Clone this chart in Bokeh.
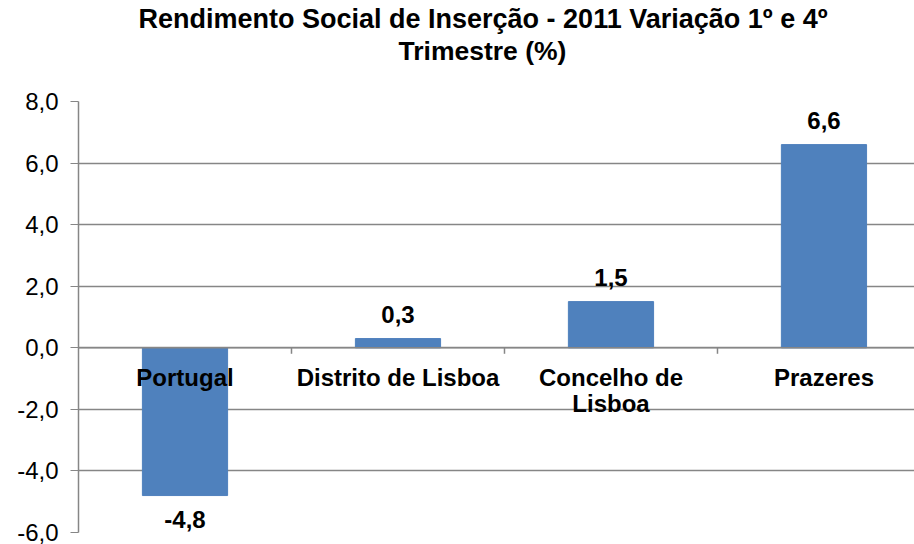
from bokeh.plotting import figure
from bokeh.models import Range1d, FixedTicker, Span, ColumnDataSource, Title
from bokeh.core.properties import value
from bokeh.embed import file_html
from bokeh.resources import INLINE

title_line1 = "Rendimento Social de Inserção - 2011 Variação 1º e 4º"
title_line2 = "Trimestre (%)"
categories = ["Portugal", "Distrito de Lisboa", "Concelho de\nLisboa", "Prazeres"]
values = [-4.8, 0.3, 1.5, 6.6]
value_labels = ["-4,8", "0,3", "1,5", "6,6"]
y_ticks = [-6, -4, -2, 0, 2, 4, 6, 8]
y_tick_labels = ["-6,0", "-4,0", "-2,0", "0,0", "2,0", "4,0", "6,0", "8,0"]

BAR = "#4F81BD"
GRAY = "#868686"
FONT = "Liberation Sans"

n = len(categories)
centers = [i + 0.5 for i in range(n)]
offsets = [-24 if v >= 0 else 24 for v in values]

src = ColumnDataSource(dict(x=centers, top=values, lab=value_labels, off=offsets, cat=categories))

W, H = 914, 544
BL, BT, BB = 78, 101, 12
p = figure(width=W, height=H, output_backend="svg", toolbar_location=None,
           x_range=Range1d(0, 3.925), y_range=Range1d(y_ticks[0], y_ticks[-1]),
           x_axis_type=None, min_border_left=BL, min_border_right=0,
           min_border_top=BT, min_border_bottom=BB)
p.outline_line_color = None
p.background_fill_color = "white"

p.title.text = title_line1
p.title.text_font = FONT
p.title.text_font_size = "27px"
p.title.text_font_style = "bold"
p.title.text_color = "black"
p.title.align = "left"
p.title.offset = 60
p.title.standoff = 0

spacer = Title(text=" ", text_font_size="2px", standoff=32)
p.add_layout(spacer, "above")
t2 = Title(text=title_line2, text_font=FONT, text_font_size="26.5px", text_font_style="bold",
           text_color="black", align="left", offset=320, standoff=0)
p.add_layout(t2, "above")

p.yaxis.ticker = FixedTicker(ticks=y_ticks)
p.yaxis.major_label_overrides = {t: l for t, l in zip(y_ticks, y_tick_labels)}
p.yaxis.major_label_text_font = FONT
p.yaxis.major_label_text_font_size = "24px"
p.yaxis.major_label_text_color = "black"
p.yaxis.major_tick_out = 8
p.yaxis.major_tick_in = 0
p.yaxis.minor_tick_out = 0
p.yaxis.minor_tick_in = 0
p.yaxis.axis_line_color = GRAY
p.yaxis.major_tick_line_color = GRAY
p.yaxis.axis_line_width = 1.5
p.yaxis.major_label_standoff = 12

p.ygrid.grid_line_color = GRAY
p.ygrid.grid_line_width = 1.5
p.xgrid.visible = False

p.vbar(x="x", top="top", bottom=0, width=0.4, source=src, fill_color=BAR, line_color=BAR)

p.add_layout(Span(location=0, dimension="width", line_color=GRAY, line_width=1.5))
bounds = list(range(1, n))
tick_len = 6 / (H - BT - BB) * (y_ticks[-1] - y_ticks[0])
p.segment(x0=bounds, y0=[0] * len(bounds), x1=bounds, y1=[-tick_len] * len(bounds),
          line_color=GRAY, line_width=1.5)

p.text(x="x", y="top", text="lab", y_offset="off", source=src,
       text_align="center", text_baseline="middle",
       text_font=value(FONT), text_font_size="24px", text_font_style="bold", text_color="black")

p.text(x="x", y=0, text="cat", y_offset=16, source=src,
       text_align="center", text_baseline="top", text_line_height=0.98,
       text_font=value(FONT), text_font_size="24px", text_font_style="bold", text_color="black")

open("out.html", "w").write(file_html(p, INLINE))
